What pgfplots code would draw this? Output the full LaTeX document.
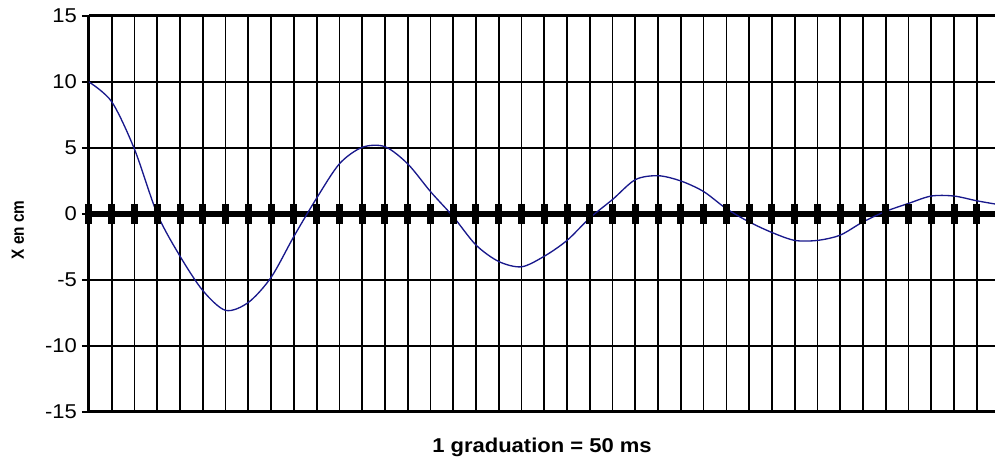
\documentclass[border=0pt]{standalone}
\usepackage{fontspec}
\setmainfont{Liberation Sans}
\usepackage{pgfplots}
\pgfplotsset{compat=1.18}
\definecolor{curve}{RGB}{25,25,140}
\begin{document}
\begin{tikzpicture}
\begin{axis}[
  name=ax,
  scale only axis, width=679.5pt, height=297pt,
  xmin=0, xmax=39.8, ymin=-15, ymax=15,
  axis x line=box, axis y line=left,
  axis line style={-, line width=2.25pt, black},
  xtick={0,...,39}, xticklabels={}, xtick style={draw=none},
  ytick={-15,-10,...,15},
  ytick style={black, line width=1.2pt},
  tick align=outside, major tick length=5.25pt,
  grid=major, major grid style={black, line width=1.3pt},
  /pgf/number format/assume math mode=true,
  yticklabel style={font=\fontsize{15}{18}\selectfont, xscale=1.1},
  xlabel={\textbf{1 graduation = 50 ms}},
  xlabel style={at={(axis description cs:0.5,-0.0884)}, anchor=center, font=\fontsize{15}{18}\selectfont, xscale=1.1},
  ylabel={\textbf{X en cm}},
  ylabel style={at={(axis description cs:-0.0784,0.4596)}, anchor=center, font=\fontsize{11.5}{14}\selectfont, yscale=1.15},
]
\addplot[black, line width=4.5pt, forget plot] coordinates {(0,0) (39.8,0)};
\addplot[only marks, mark=|, mark size=7.5pt, mark options={line width=5.25pt, black}, forget plot] coordinates {
(0,0) (1,0) (2,0) (3,0) (4,0) (5,0) (6,0) (7,0) (8,0) (9,0)
(10,0) (11,0) (12,0) (13,0) (14,0) (15,0) (16,0) (17,0) (18,0) (19,0)
(20,0) (21,0) (22,0) (23,0) (24,0) (25,0) (26,0) (27,0) (28,0) (29,0)
(30,0) (31,0) (32,0) (33,0) (34,0) (35,0) (36,0) (37,0) (38,0) (39,0)};
\addplot[curve, line width=1pt, smooth, tension=0.5] coordinates {
(0,10.0) (1,8.5) (2,4.9) (3,0.0) (4,-3.2) (5,-5.8) (6,-7.3) (7,-6.7) (8,-4.8) (9,-1.7)
(10,1.2) (11,3.8) (12,5.05) (13,5.1) (14,3.8) (15,1.7) (16,-0.2) (17,-2.35) (18,-3.6) (19,-4.0)
(20,-3.2) (21,-2.0) (22,-0.3) (23,1.1) (24,2.6) (25,2.9) (26,2.5) (27,1.7) (28,0.4) (29,-0.6)
(30,-1.4) (31,-2.0) (32,-2.0) (33,-1.6) (34,-0.6) (35,0.2) (36,0.8) (37,1.36) (38,1.36) (39,1.0) (40,0.7)};
\coordinate (bbll) at (axis description cs:-0.09823,-0.13636);
\coordinate (bbur) at (axis description cs:1,1.040404);
\end{axis}
\pgfresetboundingbox
\path (bbll) rectangle (bbur);
\end{tikzpicture}
\end{document}
